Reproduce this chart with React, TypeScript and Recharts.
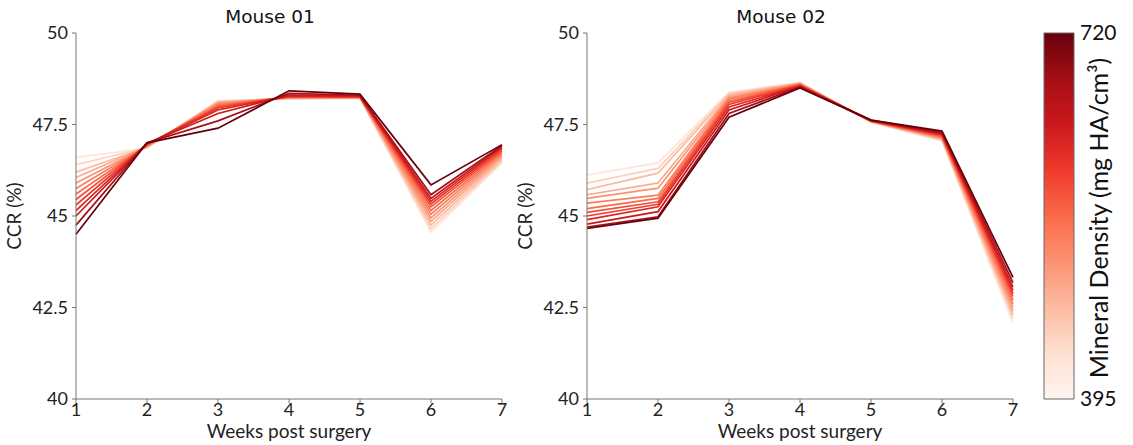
import { LineChart, Line, XAxis, YAxis, BarChart, Bar } from 'recharts';

const weeks = [1, 2, 3, 4, 5, 6, 7];
const yTicks = [40, 42.5, 45, 47.5, 50];

// colour of each line, lightest (395) to darkest (720)
const lineColors = [
  '#fee5d9', '#fdd0bc', '#fcbba1', '#fca68a', '#fc9272', '#fb7e5e', '#fb6a4a',
  '#f44f39', '#ef3b2c', '#d92723', '#cb181d', '#a50f15', '#67000d',
];

// CCR (%) per week, one row per density threshold (light -> dark)
const mouse01Lines: number[][] = [
  [46.6, 46.85, 48.15, 48.2, 48.22, 44.56, 46.45],
  [46.4, 46.87, 48.13, 48.2, 48.22, 44.65, 46.5],
  [46.2, 46.88, 48.12, 48.22, 48.23, 44.75, 46.55],
  [46.05, 46.9, 48.1, 48.22, 48.23, 44.85, 46.6],
  [45.9, 46.9, 48.08, 48.23, 48.24, 44.95, 46.65],
  [45.75, 46.92, 48.05, 48.24, 48.24, 45.05, 46.7],
  [45.6, 46.93, 48.02, 48.25, 48.25, 45.15, 46.74],
  [45.45, 46.95, 47.98, 48.26, 48.25, 45.25, 46.78],
  [45.3, 46.96, 47.95, 48.27, 48.26, 45.33, 46.82],
  [45.15, 46.97, 47.9, 48.28, 48.27, 45.4, 46.86],
  [45.0, 46.98, 47.8, 48.3, 48.28, 45.48, 46.9],
  [44.75, 47.0, 47.6, 48.35, 48.3, 45.58, 46.93],
  [44.5, 47.0, 47.4, 48.42, 48.33, 45.85, 46.95],
];

const mouse02Lines: number[][] = [
  [46.12, 46.45, 48.38, 48.65, 47.56, 47.05, 42.08],
  [45.9, 46.3, 48.35, 48.64, 47.57, 47.07, 42.2],
  [45.72, 46.17, 48.32, 48.63, 47.57, 47.09, 42.3],
  [45.58, 45.9, 48.28, 48.62, 47.58, 47.11, 42.4],
  [45.48, 45.76, 48.24, 48.61, 47.58, 47.13, 42.5],
  [45.35, 45.57, 48.2, 48.6, 47.59, 47.15, 42.6],
  [45.2, 45.48, 48.15, 48.59, 47.59, 47.17, 42.7],
  [45.1, 45.39, 48.1, 48.58, 47.6, 47.19, 42.8],
  [45.0, 45.32, 48.05, 48.57, 47.6, 47.21, 42.88],
  [44.9, 45.25, 47.98, 48.55, 47.61, 47.23, 42.97],
  [44.78, 45.12, 47.9, 48.54, 47.61, 47.25, 43.06],
  [44.7, 44.98, 47.8, 48.52, 47.62, 47.28, 43.18],
  [44.66, 44.94, 47.7, 48.5, 47.62, 47.32, 43.32],
];

const densityRange = [395, 720];

const labelFont = 'Lato, "Open Sans", sans-serif';
const titleFont = '"DejaVu Sans", sans-serif';

function toRows(lines: number[][]) {
  return weeks.map((w, i) => {
    const row: Record<string, number> = { week: w };
    lines.forEach((l, j) => { row[`s${j}`] = l[i]; });
    return row;
  });
}

function MousePanel({ title, lines, left }: { title: string; lines: number[][]; left: number }) {
  const data = toRows(lines);
  const tick = { fill: '#222', fontSize: 18, fontFamily: labelFont };
  return (
    <div style={{ position: 'absolute', left, top: 0, width: 520, height: 445 }}>
      <div style={{ position: 'absolute', left: 57, width: 426, top: 6, textAlign: 'center', fontFamily: titleFont, fontSize: 18.5, color: '#111' }}>
        {title}
      </div>
      <LineChart width={520} height={445} data={data} margin={{ top: 33, right: 18, bottom: 0, left: 0 }}>
        <XAxis
          dataKey="week" type="number" domain={[1, 7]} ticks={weeks}
          tick={tick} tickLine={{ stroke: '#777' }} axisLine={{ stroke: '#777' }} tickSize={4} tickMargin={0}
          height={46}
          label={{
            content: (p: any) => (
              <text x={p.viewBox.x + p.viewBox.width / 2} y={p.viewBox.y + 39} textAnchor="middle"
                fontFamily={labelFont} fontSize={19} fill="#222">Weeks post surgery</text>
            ),
          }}
        />
        <XAxis xAxisId="top" orientation="top" type="number" domain={[1, 7]} height={0} tick={false} tickLine={false} axisLine={{ stroke: '#aaa' }} />
        <YAxis
          type="number" domain={[40, 50]} ticks={yTicks} width={76}
          tick={tick} tickLine={{ stroke: '#777' }} axisLine={{ stroke: '#777' }} tickSize={4} tickMargin={4}
          tickFormatter={(v: number) => String(v)}
          label={{
            content: (p: any) => (
              <text x={21} y={p.viewBox.y + p.viewBox.height / 2} textAnchor="middle"
                transform={`rotate(-90 21 ${p.viewBox.y + p.viewBox.height / 2})`}
                fontFamily={labelFont} fontSize={19} fill="#222">CCR (%)</text>
            ),
          }}
        />
        <YAxis yAxisId="right" orientation="right" type="number" domain={[40, 50]} width={0} tick={false} tickLine={false} axisLine={{ stroke: '#bbb' }} />
        {lines.map((_, j) => (
          <Line key={j} dataKey={`s${j}`} stroke={lineColors[j]} strokeWidth={1.7} dot={false} isAnimationActive={false} />
        ))}
      </LineChart>
    </div>
  );
}

function ColorBar() {
  const data = [{ name: 'density', range: densityRange }];
  return (
    <div style={{ position: 'absolute', left: 1030, top: 0, width: 103, height: 445 }}>
      <BarChart width={103} height={445} data={data} margin={{ top: 33, right: 0, bottom: 46, left: 14 }} barCategoryGap={0}>
        <defs>
          <linearGradient id="redsGrad" x1="0" y1="1" x2="0" y2="0">
            <stop offset="0%" stopColor="#fff5f0" />
            <stop offset="12.5%" stopColor="#fee0d2" />
            <stop offset="25%" stopColor="#fcbba1" />
            <stop offset="37.5%" stopColor="#fc9272" />
            <stop offset="50%" stopColor="#fb6a4a" />
            <stop offset="62.5%" stopColor="#ef3b2c" />
            <stop offset="75%" stopColor="#cb181d" />
            <stop offset="87.5%" stopColor="#a50f15" />
            <stop offset="100%" stopColor="#67000d" />
          </linearGradient>
        </defs>
        <XAxis dataKey="name" hide />
        <YAxis
          orientation="right" type="number" domain={densityRange} ticks={densityRange} width={59}
          axisLine={false} tickLine={false} tickSize={6} tickMargin={0}
          tick={{ fill: '#111', fontSize: 21, fontFamily: labelFont }}
          label={{
            content: (p: any) => {
              const cx = p.viewBox.x + 34;
              const cy = p.viewBox.y + p.viewBox.height / 2 + 2;
              return (
                <text x={cx} y={cy} textAnchor="middle" transform={`rotate(-90 ${cx} ${cy})`}
                  fontFamily={labelFont} fontSize={25} fill="#111">Mineral Density (mg HA/cm³)</text>
              );
            },
          }}
        />
        <Bar dataKey="range" fill="url(#redsGrad)" stroke="#666" strokeWidth={1} isAnimationActive={false} />
      </BarChart>
    </div>
  );
}

export default function App() {
  return (
    <div style={{ position: 'absolute', left: 0, top: 0, width: 1133, height: 445, background: '#fff', overflow: 'hidden' }}>
      <MousePanel title="Mouse 01" lines={mouse01Lines} left={0} />
      <MousePanel title="Mouse 02" lines={mouse02Lines} left={511} />
      <ColorBar />
    </div>
  );
}
